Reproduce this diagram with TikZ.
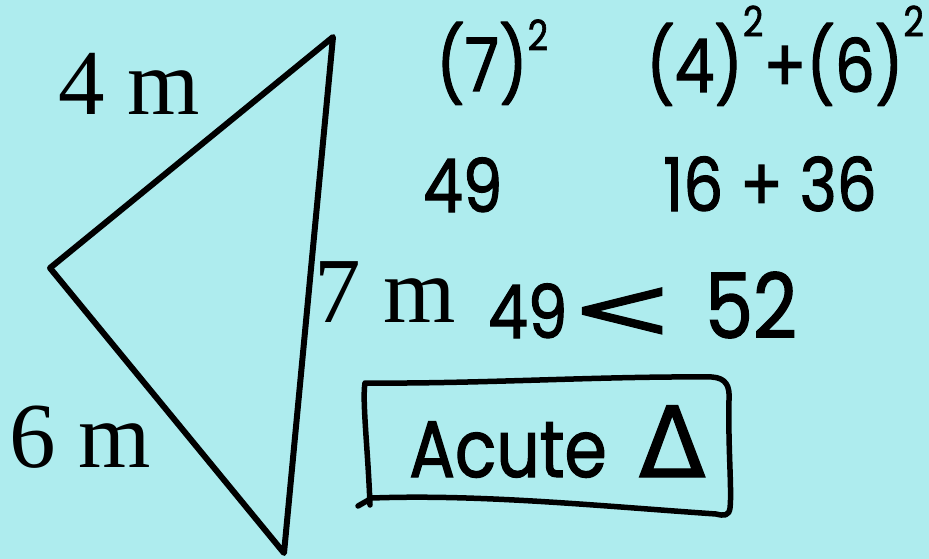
\documentclass[tikz,border=0pt]{standalone}
\usepackage{fontspec}
\setmainfont{Liberation Serif}
\newfontfamily\hand[FakeStretch=0.85,FakeBold=1.5]{Poppins}
\newfontfamily\symfont[FakeBold=1.2]{DejaVu Sans}
\definecolor{bgcyan}{RGB}{174,236,238}
\newcommand{\supii}[1]{\raisebox{#1}{\fontsize{42}{42}\selectfont 2}}
\tikzset{
  edge/.style={line width=6pt, line join=round, line cap=round},
  lbl/.style={font=\fontsize{93}{100}\selectfont, inner sep=0pt, anchor=base west},
  hw/.style={font=\hand\fontsize{74}{80}\selectfont, inner sep=0pt, anchor=base west},
  boxline/.style={line width=5.5pt, line join=round, line cap=round}
}
\begin{document}
\begin{tikzpicture}[x=1pt,y=-1pt]
\fill[bgcyan] (0,0) rectangle (929,559);
\useasboundingbox (0,0) rectangle (929,559);
% triangle
\coordinate (top) at (333,37);
\coordinate (left) at (50,268);
\coordinate (bot) at (284,553);
\draw[edge] (top) -- (left) -- (bot) -- cycle;
% side labels
\node[lbl] (l4) at (58,115) {4 m};
\node[lbl] (l6) at (9,467) {6 m};
\node[lbl] (l7) at (314,322) {7 m};
% handwritten work
\node[hw] (sq7) at (436,91) {(7)\supii{0.55em}};
\node[hw] (sq46) at (646,92) {(4)\supii{0.75em}+(6)\supii{0.75em}};
\node[hw] (n49) at (423,212) {49};
\node[hw] (n1636) at (663,211) {16 + 36};
\node[hw] (cmp) at (488,338) {49\hspace{2pt}{\symfont\fontsize{120}{120}\selectfont\scalebox{1.05}[0.72]{<}}\hspace{30pt}{\fontsize{90}{90}\selectfont 52}};
\node[hw,font=\hand\fontsize{80}{90}\selectfont] (acute) at (409,477) {Acute\hspace{0.4em}{\symfont\fontsize{98}{98}\selectfont Δ}};
% hand-drawn box
\draw[boxline] (370,505) .. controls (368,450) and (362,400) .. (365,383)
  .. controls (480,384) and (600,376) .. (712,377)
  .. controls (726,378) and (730,386) .. (729,400)
  .. controls (728,450) and (732,490) .. (730,508)
  .. controls (729,516) and (724,516) .. (716,514)
  .. controls (600,506) and (480,494) .. (372,498)
  -- (358,506);
\end{tikzpicture}
\end{document}
